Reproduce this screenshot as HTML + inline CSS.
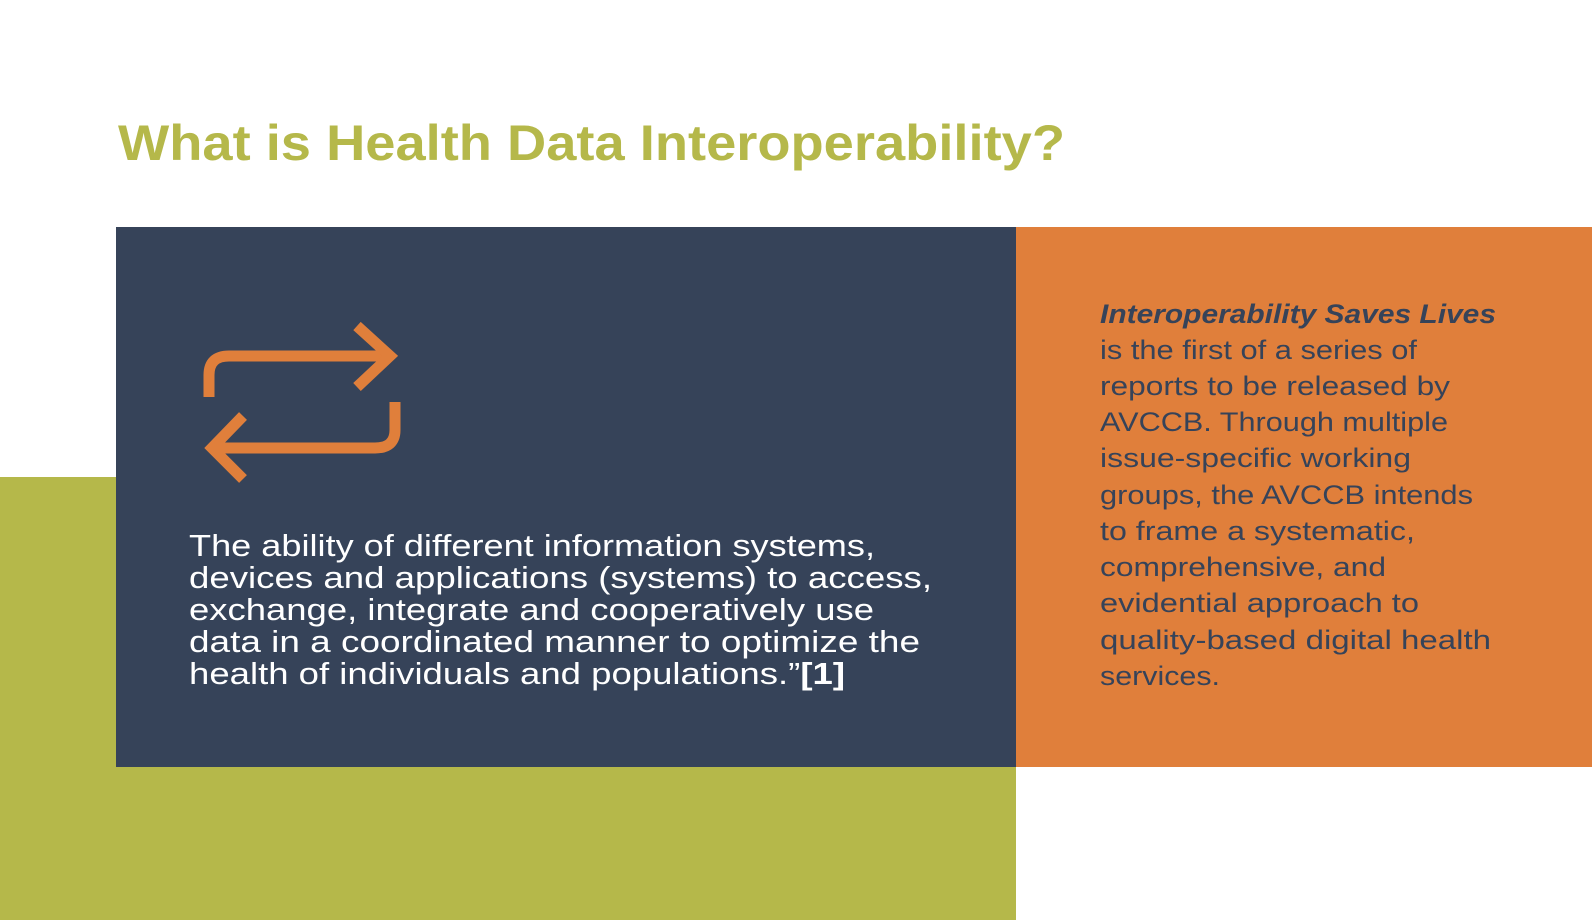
<!DOCTYPE html>
<html><head><meta charset="utf-8"><style>
html,body{margin:0;padding:0;background:#fff;}
svg{display:block;}
</style></head><body>
<svg width="1592" height="920" viewBox="0 0 1592 920" xmlns="http://www.w3.org/2000/svg">
<rect x="0" y="0" width="1592" height="920" fill="#ffffff"/>
<text x="118" y="160" font-family="Liberation Sans, sans-serif" font-weight="bold" font-size="50" fill="#b5b84a" textLength="947" lengthAdjust="spacingAndGlyphs">What is Health Data Interoperability?</text>
<rect x="0" y="477" width="1016" height="443" fill="#b5b84a"/>
<rect x="116" y="227" width="900" height="540" fill="#364359"/>
<rect x="1016" y="227" width="576" height="540" fill="#e07f3b"/>
<g fill="none" stroke="#e07f3b" stroke-width="11" stroke-linecap="butt" stroke-linejoin="miter">
<path d="M209 397 V375 Q209 356 229 356 H390"/>
<path d="M357 326 L390 356 L357 387"/>
<path d="M395 402 V430 Q395 448 375 448 H212"/>
<path d="M243 416 L212 448 L243 479"/>
</g>
<g font-family="Liberation Sans, sans-serif" font-size="31" fill="#ffffff">
<text x="189" y="556" textLength="686" lengthAdjust="spacingAndGlyphs">The ability of different information systems,</text>
<text x="189" y="588" textLength="743" lengthAdjust="spacingAndGlyphs">devices and applications (systems) to access,</text>
<text x="189" y="620" textLength="685" lengthAdjust="spacingAndGlyphs">exchange, integrate and cooperatively use</text>
<text x="189" y="652" textLength="731" lengthAdjust="spacingAndGlyphs">data in a coordinated manner to optimize the</text>
<text x="189" y="684" textLength="656" lengthAdjust="spacingAndGlyphs">health of individuals and populations.”<tspan font-weight="bold">[1]</tspan></text>
</g>
<g font-family="Liberation Sans, sans-serif" font-size="27" fill="#364359">
<text x="1100" y="323" font-weight="bold" font-style="italic" textLength="396" lengthAdjust="spacingAndGlyphs">Interoperability Saves Lives</text>
<text x="1100" y="359" textLength="317" lengthAdjust="spacingAndGlyphs">is the first of a series of</text>
<text x="1100" y="395" textLength="350" lengthAdjust="spacingAndGlyphs">reports to be released by</text>
<text x="1100" y="431" textLength="348" lengthAdjust="spacingAndGlyphs">AVCCB. Through multiple</text>
<text x="1100" y="467" textLength="311" lengthAdjust="spacingAndGlyphs">issue-specific working</text>
<text x="1100" y="504" textLength="373" lengthAdjust="spacingAndGlyphs">groups, the AVCCB intends</text>
<text x="1100" y="540" textLength="315" lengthAdjust="spacingAndGlyphs">to frame a systematic,</text>
<text x="1100" y="576" textLength="286" lengthAdjust="spacingAndGlyphs">comprehensive, and</text>
<text x="1100" y="612" textLength="319" lengthAdjust="spacingAndGlyphs">evidential approach to</text>
<text x="1100" y="649" textLength="391" lengthAdjust="spacingAndGlyphs">quality-based digital health</text>
<text x="1100" y="685" textLength="120" lengthAdjust="spacingAndGlyphs">services.</text>
</g>
</svg>
</body></html>
